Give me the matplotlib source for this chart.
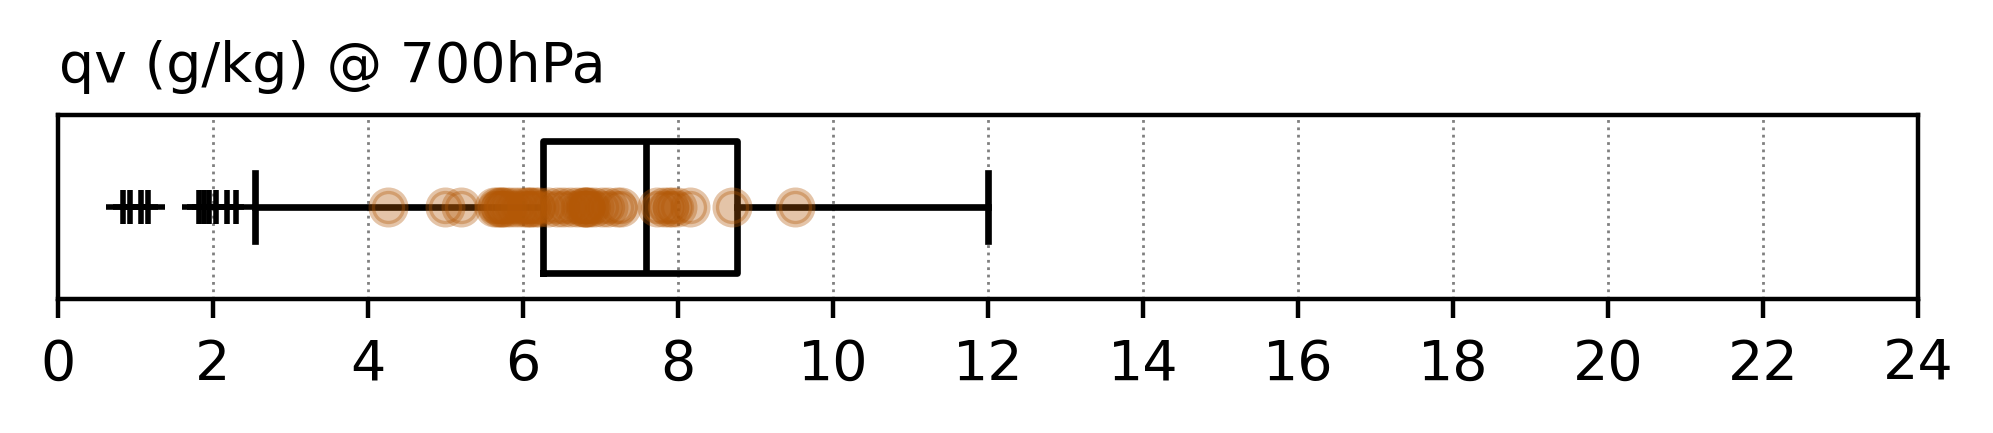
import numpy as np
import matplotlib
matplotlib.use("Agg")
import matplotlib.pyplot as plt

# box statistics (g/kg)
box_q1 = 6.26
box_median = 7.59
box_q3 = 8.76
whisker_low = 2.54
whisker_high = 12.0
fliers = [0.84, 0.93, 1.07, 1.16, 1.82, 1.88, 1.95, 2.04, 2.18, 2.30]

# observed values drawn over the box
obs_values = [4.26, 4.99, 5.20,
              5.62, 5.66, 5.70, 5.72, 5.74, 5.78, 5.85, 5.92, 6.00, 6.05, 6.08, 6.10,
              6.15, 6.20,
              6.32, 6.44, 6.52, 6.60, 6.70, 6.78, 6.80, 6.80, 6.82, 6.85, 6.92, 7.02,
              7.10, 7.21, 7.26,
              7.73, 7.82, 7.88, 7.92, 7.99, 8.15, 8.70, 9.51]

title = "qv (g/kg) @ 700hPa"
xticks = list(range(0, 25, 2))


def draw():
    W, H, dpi = 1993, 433, 400
    fig = plt.figure(figsize=(W / dpi, H / dpi), dpi=dpi)
    ax = fig.add_axes([58 / W, 1 - 299 / H, 1860 / W, 184 / H])

    stats = [dict(med=box_median, q1=box_q1, q3=box_q3,
                  whislo=whisker_low, whishi=whisker_high, fliers=fliers)]
    lw = 1.2
    ax.bxp(stats, positions=[1], widths=0.72, capwidths=0.37, vert=False,
           boxprops=dict(color="black", linewidth=lw),
           whiskerprops=dict(color="black", linewidth=lw),
           capprops=dict(color="black", linewidth=lw),
           medianprops=dict(color="black", linewidth=lw),
           flierprops=dict(marker="+", markersize=6, markeredgecolor="black",
                           markeredgewidth=1.0))

    # points on top of the whisker line
    ax.plot(obs_values, np.ones(len(obs_values)), "o", color="#b35806",
            alpha=0.35, markersize=6, markeredgewidth=1.2, zorder=3)

    ax.set_xlim(0, 24)
    ax.set_ylim(0.5, 1.5)
    ax.set_xticks(xticks)
    ax.set_xticklabels([str(t) for t in xticks], fontsize=10)
    ax.set_yticks([])
    ax.grid(axis="x", linestyle=":", color="gray", linewidth=0.5)
    ax.set_axisbelow(True)

    fig.text(59 / W, 1 - 82 / H, title, fontsize=10, va="baseline", ha="left")
    fig.savefig("out.png", dpi=dpi)


if __name__ == "__main__":
    draw()
